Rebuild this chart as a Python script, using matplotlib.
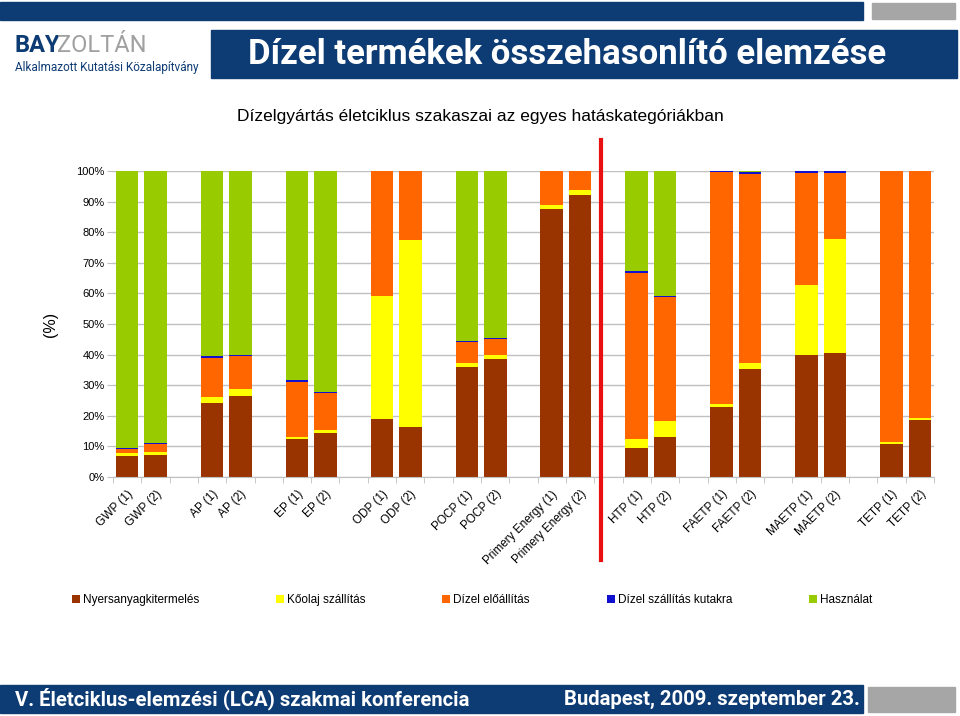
import matplotlib.pyplot as plt
from matplotlib.patches import Rectangle

# hatáskategóriák, két dízel termékre
kategoriak = ["GWP", "AP", "EP", "ODP", "POCP", "Primery Energy",
              "HTP", "FAETP", "MAETP", "TETP"]
cimkek = [f"{k} ({i})" for k in kategoriak for i in (1, 2)]

# százalékos megoszlás szakaszonként (olvasott értékek)
nyersanyag = [6.9, 7.3, 24.3, 26.4, 12.5, 14.5, 19.0, 16.4, 36.0, 38.4,
              87.7, 92.1, 9.6, 13.0, 22.9, 35.3, 39.8, 40.5, 10.9, 18.6]
koolaj = [0.8, 0.9, 1.7, 2.5, 0.5, 0.8, 40.2, 61.0, 1.1, 1.6,
          1.1, 1.7, 2.7, 5.3, 1.0, 1.8, 22.9, 37.3, 0.4, 0.6]
dizel_eloall = [1.6, 2.7, 13.0, 10.6, 18.2, 12.1, 40.8, 22.6, 7.1, 5.0,
                11.2, 6.2, 54.5, 40.6, 75.9, 62.0, 36.8, 21.7, 88.7, 80.8]
dizel_szall = [0.3, 0.1, 0.5, 0.4, 0.4, 0.4, 0.0, 0.0, 0.1, 0.5,
               0.0, 0.0, 0.6, 0.4, 0.2, 0.6, 0.5, 0.5, 0.0, 0.0]
hasznalat = [90.4, 89.0, 60.5, 60.1, 68.4, 72.2, 0.0, 0.0, 55.7, 54.5,
             0.0, 0.0, 32.6, 40.7, 0.0, 0.3, 0.0, 0.0, 0.0, 0.0]

sorozatok = [
    ("Nyersanyagkitermelés", nyersanyag, "#993300"),
    ("Kőolaj szállítás", koolaj, "#ffff00"),
    ("Dízel előállítás", dizel_eloall, "#ff6600"),
    ("Dízel szállítás kutakra", dizel_szall, "#1010d0"),
    ("Használat", hasznalat, "#99cc00"),
]

navy = "#0d3b74"
plt.rcParams['font.family'] = ['Liberation Sans', 'DejaVu Sans']

fig = plt.figure(figsize=(9.6, 7.16), dpi=100)

# fejléc és lábléc
fig.patches.append(Rectangle((0, 1 - 20/716), 863/960, 18/716, transform=fig.transFigure, color=navy))
fig.patches.append(Rectangle((872/960, 1 - 19/716), 83/960, 16/716, transform=fig.transFigure, color="#a6a6a6"))
fig.patches.append(Rectangle((211/960, 1 - 78/716), 746/960, 48/716, transform=fig.transFigure, color=navy))
fig.patches.append(Rectangle((0, 3/716), 863/960, 28/716, transform=fig.transFigure, color=navy))
fig.patches.append(Rectangle((868/960, 4/716), 87/960, 25/716, transform=fig.transFigure, color="#a6a6a6"))

fig.text(15/960, 1 - 46/716, "BAY", color=navy, fontsize=17, fontweight="bold",
         family="Roboto", va="center")
fig.text(57/960, 1 - 46/716, "ZOLTÁN", color="#a0a0a0", fontsize=17,
         family="Roboto", va="center")
fig.text(15/960, 1 - 67/716, "Alkalmazott Kutatási Közalapítvány", color=navy,
         fontsize=8.5, family="Roboto", va="center")
fig.text(567/960, 1 - 54/716, "Dízel termékek összehasonlító elemzése", color="white",
         fontsize=25, fontweight="bold", family="Roboto", ha="center", va="center")
fig.text(15/960, 17/716, "V. Életciklus-elemzési (LCA) szakmai konferencia", color="white",
         fontsize=14.6, fontweight="bold", family="Roboto", va="center")
fig.text(860/960, 17/716, "Budapest, 2009. szeptember 23.", color="white",
         fontsize=14.6, fontweight="bold", family="Roboto", ha="right", va="center")

fig.text(480/960, 1 - 116/716, "Dízelgyártás életciklus szakaszai az egyes hatáskategóriákban",
         fontsize=12.5, ha="center", va="center")

ax = fig.add_axes([113/960, 239/716, 821/960, 306/716])
poz = [3 * (i // 2) + i % 2 for i in range(len(cimkek))]

alap = [0.0] * len(cimkek)
for nev, ertek, szin in sorozatok:
    ax.bar(poz, ertek, bottom=alap, width=0.8, color=szin, label=nev, zorder=2)
    alap = [a + e for a, e in zip(alap, ertek)]

ax.set_xlim(-0.5, 28.5)
ax.set_ylim(0, 100)
ax.set_yticks(range(0, 101, 10))
ax.set_yticklabels([f"{v}%" for v in range(0, 101, 10)], fontsize=8)
ax.yaxis.grid(True, color="#c0c0c0", linewidth=1, zorder=0)
ax.tick_params(axis="y", length=4, color="#c0c0c0", pad=2)
ax.set_xticks(poz)
ax.set_xticklabels(cimkek, rotation=45, ha="right", va="top",
                   rotation_mode="anchor", fontsize=8.5)
ax.tick_params(axis="x", length=0, pad=8)
ax.set_xticks([x - 0.5 for x in range(30)], minor=True)
ax.tick_params(axis="x", which="minor", length=4, color="#c0c0c0")
for s in ["top", "right", "left"]:
    ax.spines[s].set_visible(False)
ax.spines["bottom"].set_color("#c0c0c0")
ax.set_ylabel("(%)", fontsize=11.5, labelpad=13)

# elválasztó piros vonal
ax.axvline(16.74, ymin=-0.27, ymax=1.10, color="#e81010", linewidth=3, clip_on=False, zorder=3)

ax.legend(loc="center", bbox_to_anchor=(472/960, 1 - 600/716), bbox_transform=fig.transFigure,
          ncol=5, frameon=False, fontsize=8.5, handlelength=0.7, handleheight=0.7,
          handletextpad=0.25, columnspacing=6.5)

plt.savefig("out.png")
